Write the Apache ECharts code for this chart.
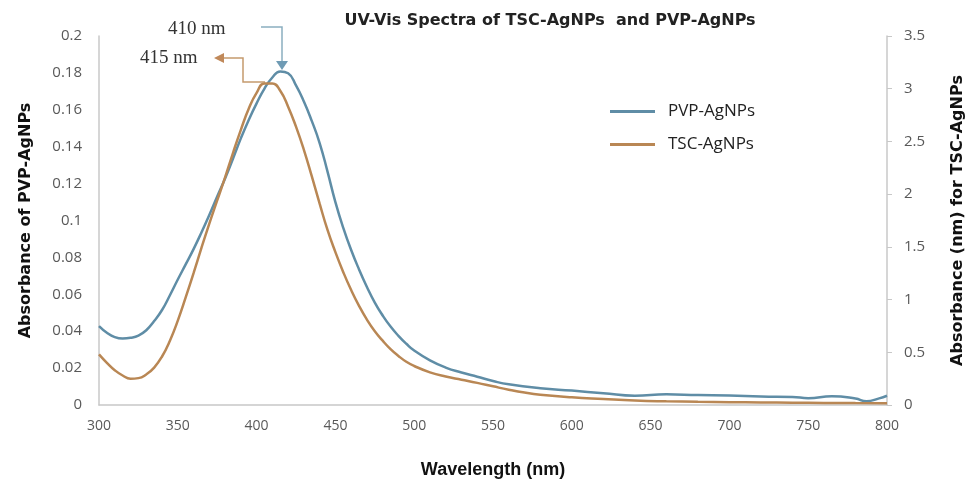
<!DOCTYPE html>
<html>
<head>
<meta charset="utf-8">
<title>UV-Vis Spectra</title>
<script src="https://cdn.jsdelivr.net/npm/echarts@6/dist/echarts.min.js"></script>
<style>
    html, body { margin: 0; padding: 0; background: #fff; }
    #chart { width: 978px; height: 484px; }
</style>
</head>
<body>
<div id="chart"></div>
<script>
// wavelength (nm) and absorbance
var pvpWavelength = [300, 305, 310, 315, 320, 325, 330, 335, 340, 345, 350, 355, 360, 365, 370, 375, 380, 385, 390, 395, 400, 405, 410, 415, 420, 425, 430, 435, 440, 445, 450, 455, 460, 465, 470, 475, 480, 485, 490, 495, 500, 510, 520, 530, 540, 550, 560, 580, 600, 620, 640, 660, 680, 700, 720, 740, 750, 765, 780, 787, 795, 800];
var pvpAbs = [0.0428, 0.0392, 0.0368, 0.0360, 0.0364, 0.0376, 0.0405, 0.0455, 0.0515, 0.0595, 0.0680, 0.0762, 0.0845, 0.0935, 0.1030, 0.1130, 0.1228, 0.1335, 0.1445, 0.1545, 0.1635, 0.1715, 0.1775, 0.1808, 0.1798, 0.1732, 0.1645, 0.1540, 0.1420, 0.1265, 0.1100, 0.0960, 0.0840, 0.0735, 0.0640, 0.0555, 0.0485, 0.0425, 0.0375, 0.0332, 0.0295, 0.0242, 0.0203, 0.0176, 0.0153, 0.0130, 0.0112, 0.0091, 0.0078, 0.0064, 0.0050, 0.0058, 0.0054, 0.0052, 0.0046, 0.0044, 0.0037, 0.0047, 0.0035, 0.0020, 0.0036, 0.0050];

var tscWavelength = [300, 305, 310, 315, 320, 325, 330, 335, 340, 345, 350, 355, 360, 365, 370, 375, 380, 385, 390, 395, 400, 405, 410, 415, 420, 425, 430, 435, 440, 445, 450, 455, 460, 465, 470, 475, 480, 485, 490, 495, 500, 510, 520, 530, 540, 550, 560, 570, 580, 600, 620, 640, 660, 680, 700, 720, 740, 760, 780, 800];
var tscAbs = [0.48, 0.40, 0.33, 0.28, 0.25, 0.255, 0.29, 0.355, 0.46, 0.61, 0.80, 1.02, 1.25, 1.49, 1.72, 1.94, 2.16, 2.39, 2.61, 2.81, 2.96, 3.05, 3.05, 2.98, 2.83, 2.64, 2.42, 2.17, 1.91, 1.66, 1.45, 1.26, 1.09, 0.94, 0.81, 0.70, 0.61, 0.53, 0.465, 0.41, 0.37, 0.31, 0.27, 0.24, 0.21, 0.177, 0.145, 0.118, 0.098, 0.073, 0.057, 0.043, 0.035, 0.030, 0.027, 0.024, 0.022, 0.020, 0.018, 0.017];

var seriesNames = ['PVP-AgNPs', 'TSC-AgNPs'];
var peakLabels = ['410 nm', '415 nm'];

var pair = function (xs, ys) {
    var out = [];
    for (var i = 0; i < xs.length; i++) out.push([xs[i], ys[i]]);
    return out;
};

var blue = '#5f8da6';
var orange = '#b98754';
var axisGray = '#c8c8c8';
var labelGray = '#595959';
var font = '"Open Sans", "Noto Sans", sans-serif';
var boldFont = '"DejaVu Sans", sans-serif';

var myChart = echarts.init(document.getElementById('chart'));
var option = {
    animation: false,
    title: {
        text: 'UV-Vis Spectra of TSC-AgNPs  and PVP-AgNPs',
        left: 545,
        textAlign: 'center',
        top: 8,
        textStyle: { fontFamily: boldFont, fontSize: 16, fontWeight: 'bold', color: '#222' }
    },
    legend: {
        data: seriesNames,
        orient: 'vertical',
        left: 605,
        top: 98,
        icon: 'rect',
        itemWidth: 45,
        itemHeight: 3,
        itemGap: 16,
        textStyle: { fontFamily: font, fontSize: 17, color: '#222', padding: [0, 0, 0, 8] }
    },
    grid: { left: 99, right: 91, top: 36, bottom: 78 },
    xAxis: {
        type: 'value',
        min: 300,
        max: 800,
        interval: 50,
        name: 'Wavelength (nm)',
        nameLocation: 'middle',
        nameGap: 56,
        nameTextStyle: { fontFamily: '"Liberation Sans Narrow", "Liberation Sans", sans-serif', fontSize: 18, fontWeight: 'bold', color: '#111' },
        axisLine: { lineStyle: { color: axisGray, width: 1.5 } },
        axisTick: { show: false },
        splitLine: { show: false },
        axisLabel: { fontFamily: font, fontSize: 14, color: labelGray, margin: 14 }
    },
    yAxis: [{
        type: 'value',
        min: 0,
        max: 0.2,
        interval: 0.02,
        name: 'Absorbance of PVP-AgNPs',
        nameLocation: 'middle',
        nameRotate: 90,
        nameGap: 65,
        nameTextStyle: { fontFamily: boldFont, fontSize: 16, fontWeight: 'bold', color: '#111' },
        axisLine: { show: true, lineStyle: { color: axisGray, width: 1.5 } },
        axisTick: { show: false },
        splitLine: { show: false },
        axisLabel: { fontFamily: font, fontSize: 15, color: labelGray, margin: 17 }
    }, {
        type: 'value',
        position: 'right',
        min: 0,
        max: 3.5,
        interval: 0.5,
        name: 'Absorbance (nm) for TSC-AgNPs',
        nameLocation: 'middle',
        nameRotate: 90,
        nameGap: 63,
        nameTextStyle: { fontFamily: boldFont, fontSize: 16, fontWeight: 'bold', color: '#111' },
        axisLine: { show: true, lineStyle: { color: axisGray, width: 1.5 } },
        axisTick: { show: true, length: 5, lineStyle: { color: axisGray } },
        splitLine: { show: false },
        axisLabel: { fontFamily: font, fontSize: 15, color: labelGray, margin: 17 }
    }],
    series: [{
        name: seriesNames[0],
        type: 'line',
        yAxisIndex: 0,
        smooth: 0.5,
        symbol: 'none',
        lineStyle: { color: blue, width: 2.5 },
        itemStyle: { color: blue },
        data: pair(pvpWavelength, pvpAbs)
    }, {
        name: seriesNames[1],
        type: 'line',
        yAxisIndex: 1,
        smooth: 0.5,
        symbol: 'none',
        lineStyle: { color: orange, width: 2.5 },
        itemStyle: { color: orange },
        data: pair(tscWavelength, tscAbs)
    }],
    // peak call-outs drawn as in the figure
    graphic: [{
        type: 'text', left: 168, top: 20,
        style: { text: peakLabels[0], font: '19px "Liberation Serif", serif', fill: '#333' }
    }, {
        type: 'polyline',
        shape: { points: [[261, 27], [282, 27], [282, 62]] },
        style: { stroke: '#8aaec0', lineWidth: 1.5, fill: null }
    }, {
        type: 'polygon',
        shape: { points: [[276, 61], [288, 61], [282, 70]] },
        style: { fill: '#6f9bb4' }
    }, {
        type: 'text', left: 140, top: 49,
        style: { text: peakLabels[1], font: '19px "Liberation Serif", serif', fill: '#333' }
    }, {
        type: 'polyline',
        shape: { points: [[265, 82], [243, 82], [243, 58], [222, 58]] },
        style: { stroke: '#c59a6e', lineWidth: 1.5, fill: null }
    }, {
        type: 'polygon',
        shape: { points: [[214, 58], [224, 53], [224, 63]] },
        style: { fill: '#c0895a' }
    }]
};
myChart.setOption(option);
</script>
</body>
</html>
